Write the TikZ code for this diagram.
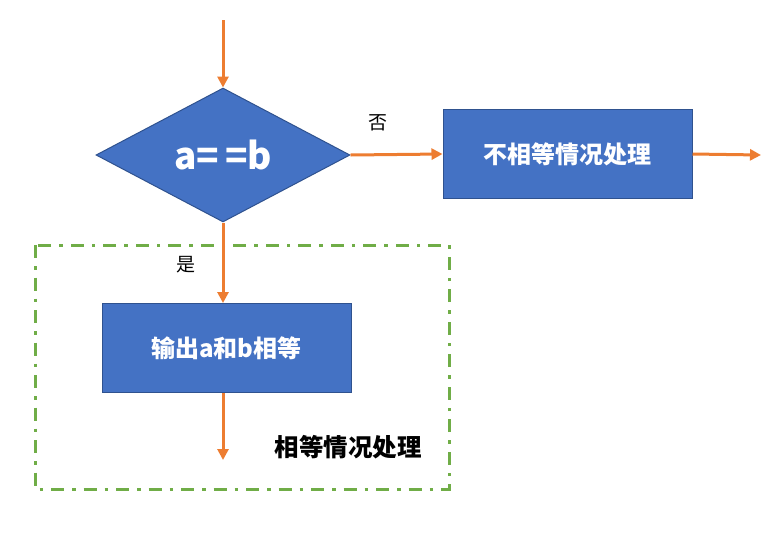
\documentclass[tikz,border=0pt]{standalone}
\usepackage{fontspec}
\newfontfamily\cjk{Noto Sans CJK SC}
\usetikzlibrary{arrows.meta}
\usetikzlibrary{shapes.geometric}
\definecolor{boxblue}{HTML}{4472C4}
\definecolor{boxedge}{HTML}{2F528F}
\definecolor{flowline}{HTML}{ED7D31}
\definecolor{groupline}{HTML}{70AD47}

\begin{document}
\begin{tikzpicture}[x=1pt,y=-1pt,inner sep=0pt,
  box/.style={draw=boxedge,fill=boxblue,line width=1pt,minimum width=249pt,minimum height=89pt,
    text=white,font=\cjk\bfseries\fontsize{24}{28}\selectfont},
  flow/.style={draw=flowline,line width=3pt,-{Triangle[length=11pt,width=11pt]}},
  label/.style={font=\cjk\fontsize{19}{22}\selectfont}]
\useasboundingbox (0,0) rectangle (781,542);
% group frame
\draw[groupline,line width=3pt,dash pattern=on 13pt off 8pt on 3.5pt off 8pt] (35,245) rectangle (449,489);
\node[font=\cjk\bfseries\fontsize{24.5}{28}\selectfont] (grp) at (348,447) {相等情况处理};

\coordinate (start) at (223,20);
\node[diamond,draw=boxedge,fill=boxblue,line width=1pt,minimum width=254pt,minimum height=134pt,
  text=white,font=\cjk\bfseries\fontsize{37}{40}\selectfont] (cmp) at (223,155) {a=\,=b};
\node[box] (neq) at (567.5,154) {不相等情况处理};
\node[box] (eq) at (226.5,348) {输出a和b相等};
\coordinate (out1) at (761,155);
\coordinate (out2) at (223,460);

\draw[flow] (start) -- (cmp.north);
\draw[flow] (cmp.east) -- (neq.west);
\draw[flow] (neq.east) -- (out1);
\draw[flow] (cmp.south) -- (cmp.south |- eq.north);
\draw[flow] (eq.south -| cmp.south) -- (out2);

\node[label] (no) at (378,123) {否};
\node[label] (yes) at (186,265) {是};
\end{tikzpicture}
\end{document}
